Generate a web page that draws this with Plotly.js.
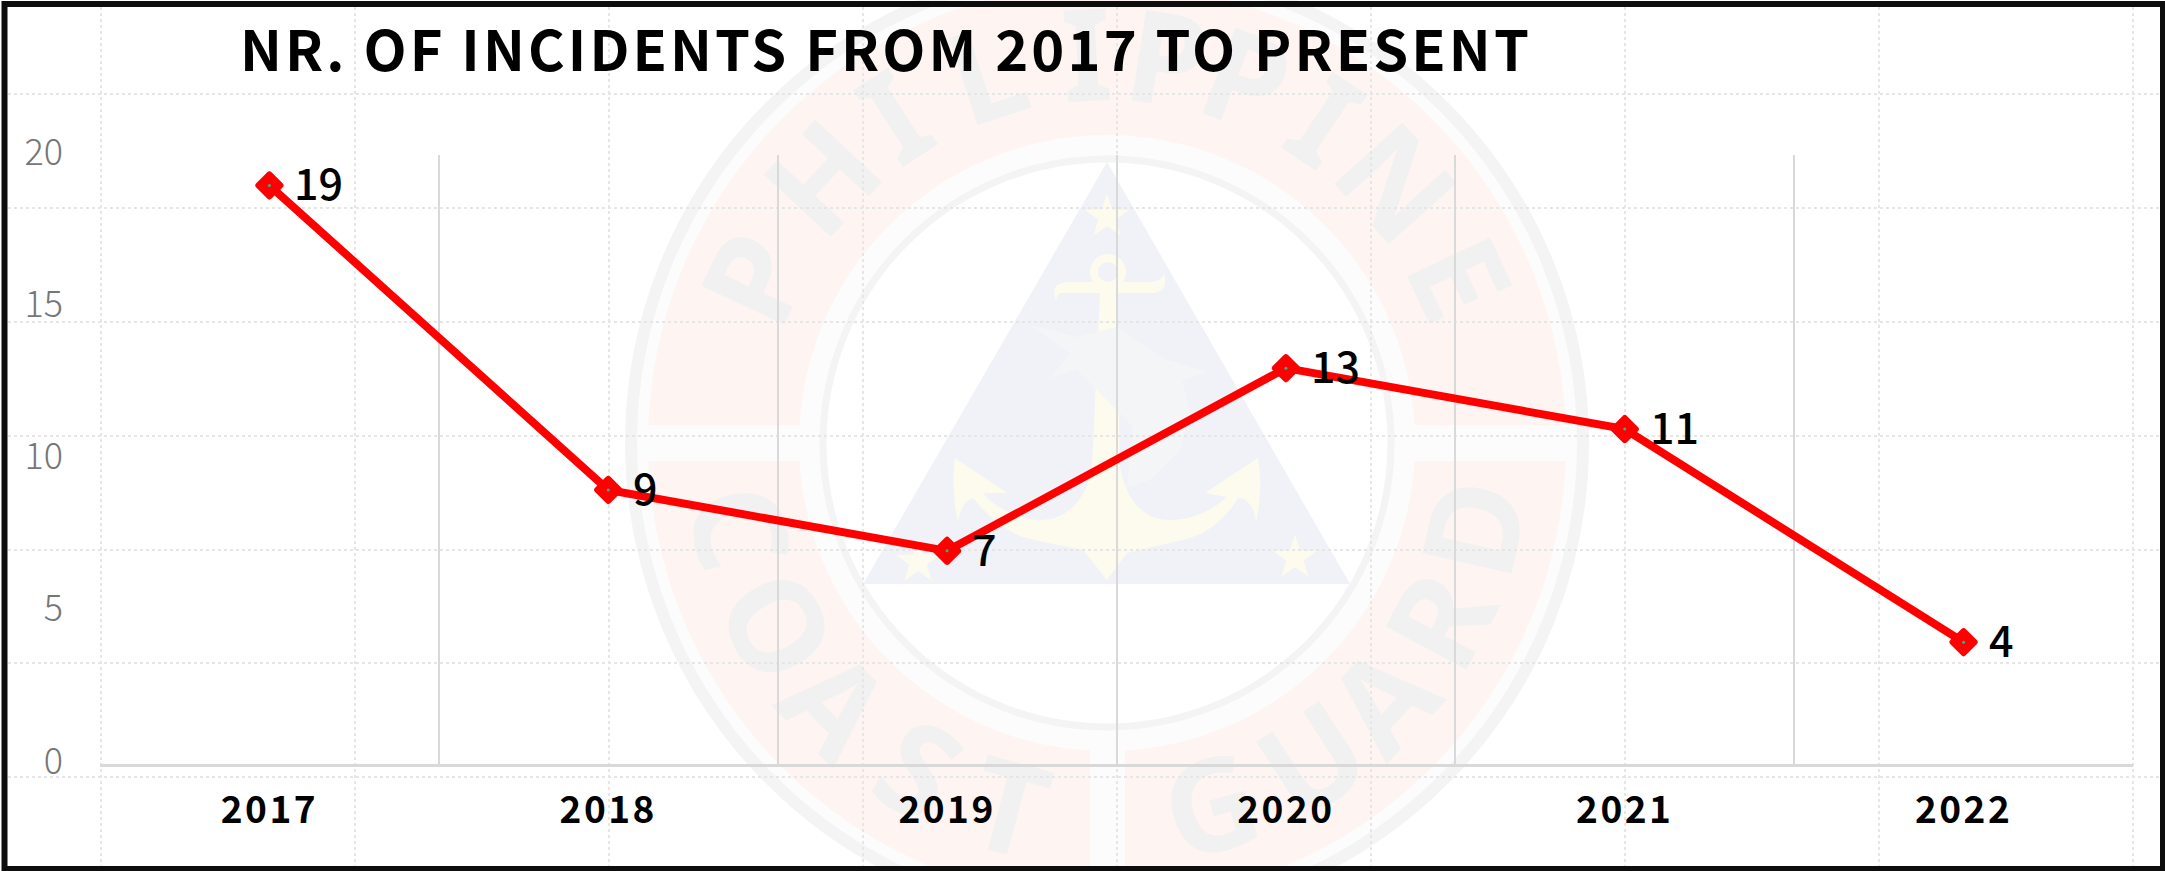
<!DOCTYPE html>
<html>
<head>
<meta charset="utf-8">
<script src="https://cdn.plot.ly/plotly-3.0.1.min.js"></script>
<style>
html,body{margin:0;padding:0;background:#fff}
#chart{width:2165px;height:871px}
.gtitle{letter-spacing:3.1px}
.xtick text{letter-spacing:2.5px}
.scatterlayer .points path{stroke-linejoin:round}
</style>
</head>
<body>
<div id="chart"></div>
<script>
// ----- chart data -----
const years = ["2017","2018","2019","2020","2021","2022"];
const incidents = [19,9,7,13,11,4];
const yTicks = [0,5,10,15,20];
const chartTitle = "NR. OF INCIDENTS FROM 2017 TO PRESENT";

// ----- watermark lettering -----
const topLetters = ["P","H","I","L","I","P","P","I","N","E"];
const topAngles = [-65,-47,-33,-18,-3,9,21,34,48,65];
const bottomLetters = ["C","O","A","S","T","G","U","A","R","D"];
const bottomAngles = [-77,-61,-46,-30,-15,16,33,47,62,77];
const dotColsPx = [101,355,609,863,1117,1371,1625,1879,2133];
const dotRowsPx = [94,208,322,436,550,663,777];

const W = 2165, H = 871;
const fx = x => x / W, fy = y => 1 - y / H;
const CX = 1107, CY = 443;
const OFFWHITE = '#fcfcfc', YEL = '#fdfbee', NAVY = '#f0f2f8', PINK = '#fef4f1', RINGGREY = '#f4f4f4';

function circle(r, fill, lineColor, lineWidth) {
  return {type:'circle', xref:'paper', yref:'paper', layer:'below',
    x0:fx(CX-r), x1:fx(CX+r), y0:fy(CY-r), y1:fy(CY+r),
    fillcolor:fill, line:{color:lineColor, width:lineWidth}};
}
function rect(x0,y0,x1,y1,fill) {
  return {type:'rect', xref:'paper', yref:'paper', layer:'below',
    x0:fx(x0), x1:fx(x1), y0:fy(y0), y1:fy(y1), fillcolor:fill, line:{width:0}};
}
function poly(cmds, fill) {
  const path = cmds.map(c => {
    let s = c[0];
    for (let i = 1; i < c.length; i += 2) s += (i>1?' ':'') + fx(c[i]) + ',' + fy(c[i+1]);
    return s;
  }).join(' ') + ' Z';
  return {type:'path', xref:'paper', yref:'paper', layer:'below', path, fillcolor:fill, line:{width:0}};
}
function star(cx, cy, R, fill) {
  const pts = [];
  for (let i = 0; i < 10; i++) {
    const r = i % 2 ? R * 0.4 : R, a = -Math.PI/2 + i * Math.PI/5;
    pts.push([i ? 'L' : 'M', cx + r*Math.cos(a), cy + r*Math.sin(a)]);
  }
  return poly(pts, fill);
}
function letter(ch, x, y, angle) {
  return {type:'rect', xref:'paper', yref:'paper', layer:'below',
    x0:fx(x-1), x1:fx(x+1), y0:fy(y-1), y1:fy(y+1),
    fillcolor:'rgba(0,0,0,0)', line:{width:0},
    label:{text:ch, textangle:angle, textposition:'middle center',
      font:{family:'"Noto Sans", sans-serif', size:128, color:'#f1f1f1', weight:700}}};
}

const shapes = [];
shapes.push(circle(476,OFFWHITE,RINGGREY,12));
shapes.push(circle(459,PINK,PINK,0));
shapes.push(rect(CX-468,425,CX+468,461,OFFWHITE));
shapes.push(rect(1090,461,1125,880,OFFWHITE));
shapes.push(circle(308,OFFWHITE,OFFWHITE,0));
shapes.push(circle(284,'#ffffff',RINGGREY,7));
// triangle emblem
shapes.push(poly([['M',1107,162],['L',1350,584],['L',863,584]],NAVY));
shapes.push(star(1107,217,23,YEL));
shapes.push(star(918,562,23,YEL));
shapes.push(star(1295,558,23,YEL));
// anchor
shapes.push({type:'circle', xref:'paper', yref:'paper', layer:'below',
  x0:fx(1094), x1:fx(1122), y0:fy(258), y1:fy(286), fillcolor:'rgba(0,0,0,0)', line:{color:YEL,width:8}});
shapes.push(poly([['M',1054,290],['C',1056,284,1062,282,1070,282],['L',1148,282],['C',1156,282,1162,280,1164,274],
  ['C',1168,286,1162,293,1152,293],['L',1062,293],['C',1058,293,1056,296,1056,302]],YEL));
shapes.push(poly([['M',1100,293],['L',1117,293],['L',1120,467],
  ['C',1124,490,1137,520,1170,520],['C',1195,520,1215,508,1227,497],['L',1205,493],['L',1258,458],
  ['C',1262,480,1260,505,1256,522],['C',1254,508,1248,498,1238,498],['C',1225,520,1205,535,1183,540],
  ['C',1160,545,1140,550,1127,553],['L',1107,580],['L',1083,550],['C',1060,545,1040,542,1023,537],
  ['C',1000,528,985,512,973,498],['C',965,500,960,510,958,522],['C',954,505,952,480,955,458],
  ['L',1007,493],['L',983,493],['C',995,508,1020,520,1040,520],['C',1070,520,1088,495,1092,467]],YEL));
// dolphin
shapes.push(poly([['M',1030,325],['L',1077,337],['L',1117,327],['L',1167,360],['L',1208,372],['L',1182,380],
  ['L',1190,410],['L',1180,450],['L',1150,480],['L',1127,487],['L',1133,427],['L',1097,390],['L',1077,370],
  ['L',1050,378],['L',1070,353]],'#f4f5f7'));
// ring lettering
const RL = 383;
topLetters.forEach((c,i) => {
  const a = topAngles[i]*Math.PI/180;
  shapes.push(letter(c, CX+RL*Math.sin(a), CY-RL*Math.cos(a), topAngles[i]));
});
bottomLetters.forEach((c,i) => {
  const a = bottomAngles[i]*Math.PI/180;
  shapes.push(letter(c, CX+RL*Math.sin(a), CY+RL*Math.cos(a), -bottomAngles[i]));
});
// dotted background lattice
dotColsPx.forEach(x => shapes.push({type:'line', xref:'paper', yref:'paper', layer:'below',
  x0:fx(x), x1:fx(x), y0:fy(7), y1:fy(866), line:{color:'#e6e6e6', width:2, dash:'dot'}}));
dotRowsPx.forEach(y => shapes.push({type:'line', xref:'paper', yref:'paper', layer:'below',
  x0:fx(8), x1:fx(2160), y0:fy(y), y1:fy(y), line:{color:'#e6e6e6', width:2, dash:'dot'}}));
// outer frame
shapes.push({type:'rect', xref:'paper', yref:'paper', layer:'above',
  x0:fx(4.5), x1:fx(2163), y0:fy(4), y1:fy(869),
  fillcolor:'rgba(0,0,0,0)', line:{color:'#0d0d0d', width:6}});

const traces = [
  {x:years, y:incidents, type:'scatter', mode:'lines+markers', hoverinfo:'x+y',
   line:{color:'#ff0000', width:8},
   marker:{symbol:'diamond', size:17, color:'#ff0000', line:{color:'#ff0000', width:6}}},
  {x:years, y:incidents, type:'scatter', mode:'markers', hoverinfo:'skip',
   marker:{symbol:'circle', size:3, color:'#21b89a'}}
];

const annotations = years.map((yr,i) => ({
  x:i, y:incidents[i], xref:'x', yref:'y', text:String(incidents[i]), showarrow:false,
  xanchor:'left', yanchor:'middle', xshift:23, yshift:4,
  font:{family:'"Noto Sans CJK JP", sans-serif', size:43, color:'#000000', weight:500}
}));

const layout = {
  width:W, height:H, showlegend:false,
  paper_bgcolor:'#ffffff', plot_bgcolor:'rgba(0,0,0,0)',
  margin:{l:0,r:0,t:0,b:0},
  title:{text:chartTitle, x:fx(240), xanchor:'left', xref:'paper', y:fy(51), yanchor:'middle', yref:'paper',
    font:{family:'"Noto Sans CJK JP", sans-serif', size:56, color:'#000000', weight:700}},
  xaxis:{type:'category', categoryorder:'array', categoryarray:years, domain:[fx(100),fx(2133)],
    range:[-0.5,5.5], tickson:'boundaries', automargin:false,
    showgrid:true, gridcolor:'#d9d9d9', gridwidth:2, showline:true, linecolor:'#d9d9d9', linewidth:3,
    ticks:'', ticklabelstandoff:12,
    tickfont:{family:'"Noto Sans CJK JP", sans-serif', size:37, color:'#000000', weight:700}},
  yaxis:{range:[0,20], domain:[fy(764),fy(155)], tickvals:yTicks, ticktext:yTicks.map(String), automargin:false,
    showgrid:false, zeroline:false, showline:false, ticks:'', ticklabelstandoff:36, ticklabelshift:-3,
    tickfont:{family:'"Noto Sans CJK JP", sans-serif', size:36, color:'#767676', weight:300}},
  annotations,
  shapes
};
Plotly.newPlot('chart', traces, layout, {displayModeBar:false, responsive:false});
</script>
</body>
</html>
